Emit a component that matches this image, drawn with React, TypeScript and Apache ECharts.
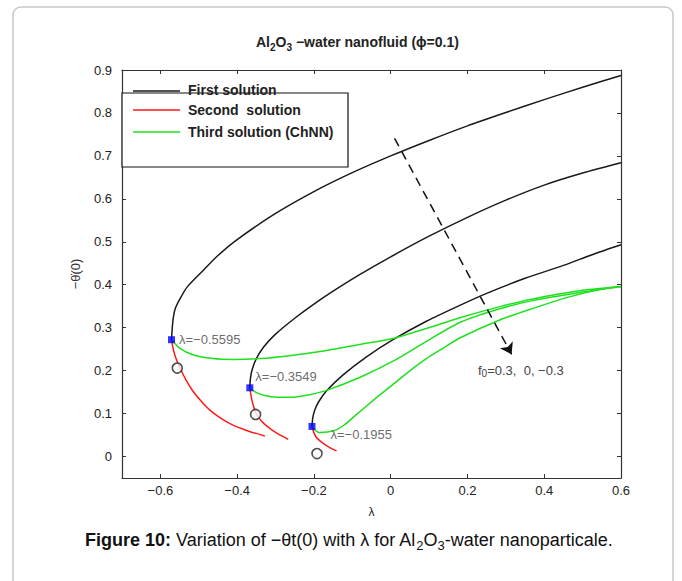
import React, { useEffect, useRef } from 'react';
import * as echarts from 'echarts';

// Axis ticks
const xTicks = [-0.6, -0.4, -0.2, 0, 0.2, 0.4, 0.6];
const yTicks = [0, 0.1, 0.2, 0.3, 0.4, 0.5, 0.6, 0.7, 0.8, 0.9];

// First solution (upper branches), f0 = 0.3, 0, -0.3
const first1 = [[-0.571, 0.272], [-0.569, 0.3], [-0.566, 0.325], [-0.561, 0.345], [-0.549, 0.367], [-0.53, 0.395], [-0.49, 0.432], [-0.45, 0.468], [-0.4, 0.505], [-0.3, 0.566], [-0.2, 0.617], [-0.1, 0.661], [0, 0.7], [0.1, 0.736], [0.2, 0.77], [0.3, 0.801], [0.4, 0.831], [0.5, 0.86], [0.6, 0.887]];
const first2 = [[-0.367, 0.16], [-0.365, 0.185], [-0.36, 0.205], [-0.35, 0.228], [-0.33, 0.256], [-0.3, 0.285], [-0.25, 0.322], [-0.2, 0.355], [-0.15, 0.385], [-0.08, 0.424], [0, 0.465], [0.1, 0.513], [0.2, 0.557], [0.3, 0.597], [0.4, 0.632], [0.5, 0.66], [0.6, 0.684]];
const first3 = [[-0.205, 0.07], [-0.203, 0.09], [-0.198, 0.108], [-0.188, 0.127], [-0.167, 0.153], [-0.124, 0.19], [-0.063, 0.232], [0.006, 0.272], [0.093, 0.315], [0.18, 0.352], [0.25, 0.38], [0.35, 0.415], [0.45, 0.445], [0.525, 0.47], [0.6, 0.493]];

// Second solution (lower branches)
const second1 = [[-0.571, 0.272], [-0.567, 0.252], [-0.56, 0.23], [-0.549, 0.206], [-0.533, 0.178], [-0.515, 0.152], [-0.493, 0.128], [-0.471, 0.108], [-0.441, 0.088], [-0.411, 0.073], [-0.37, 0.059], [-0.328, 0.048]];
const second2 = [[-0.367, 0.16], [-0.365, 0.148], [-0.362, 0.133], [-0.357, 0.116], [-0.35, 0.099], [-0.338, 0.084], [-0.324, 0.072], [-0.3, 0.056], [-0.267, 0.04]];
const second3 = [[-0.205, 0.07], [-0.201, 0.058], [-0.195, 0.046], [-0.185, 0.037], [-0.17, 0.027], [-0.155, 0.019], [-0.141, 0.013]];

// Third solution (ChNN)
const third1 = [[-0.571, 0.272], [-0.549, 0.252], [-0.515, 0.237], [-0.463, 0.228], [-0.411, 0.226], [-0.341, 0.228], [-0.254, 0.236], [-0.167, 0.247], [-0.081, 0.261], [0.006, 0.275], [0.093, 0.298], [0.18, 0.323], [0.284, 0.349], [0.37, 0.367], [0.5, 0.387], [0.6, 0.396]];
const third2 = [[-0.367, 0.16], [-0.352, 0.15], [-0.328, 0.142], [-0.298, 0.138], [-0.254, 0.138], [-0.211, 0.144], [-0.167, 0.154], [-0.081, 0.184], [0.006, 0.222], [0.093, 0.268], [0.18, 0.312], [0.284, 0.344], [0.37, 0.363], [0.5, 0.383], [0.6, 0.396]];
const third3 = [[-0.205, 0.07], [-0.195, 0.06], [-0.186, 0.056], [-0.165, 0.057], [-0.142, 0.062], [-0.12, 0.074], [-0.098, 0.091], [-0.037, 0.137], [0.006, 0.168], [0.049, 0.199], [0.093, 0.228], [0.136, 0.252], [0.18, 0.276], [0.284, 0.318], [0.371, 0.345], [0.458, 0.37], [0.544, 0.389], [0.6, 0.396]];

// Critical points and markers
const criticalPoints = [[-0.571, 0.272], [-0.367, 0.16], [-0.205, 0.07]];
const criticalLabels = ['λ=−0.5595', 'λ=−0.3549', 'λ=−0.1955'];
const openCircles = [[-0.556, 0.206], [-0.352, 0.098], [-0.192, 0.007]];
const arrowStart = [0.01, 0.741];
const arrowEnd = [0.315, 0.238];

const FONT = 'Liberation Sans, Arial, sans-serif';
const BLACK = '#1a1a1a';
const RED = '#ff1a1a';
const GREEN = '#1fe01f';

const fmt = (v: number) => String(v).replace('-', '−');

function lineSeries(name: string, data: number[][], color: string) {
  return {
    name,
    type: 'line',
    data,
    showSymbol: false,
    smooth: 0.25,
    lineStyle: { color, width: 1.5 },
    silent: true,
    z: 3,
  };
}

const labelOffsets = [[0, 0], [-2, -11], [11, 8]];

export default function App() {
  const ref = useRef<HTMLDivElement>(null);
  useEffect(() => {
    const chart = echarts.init(ref.current!, null, { renderer: 'svg' });
    const axisCommon = {
      type: 'value',
      axisLine: { show: true, onZero: false, lineStyle: { color: '#333', width: 1.2 } },
      splitLine: { show: false },
    };
    chart.setOption({
      animation: false,
      backgroundColor: '#fff',
      title: [
        {
          text: '{n|Al}{s|2}{n|O}{s|3}{n| −water nanofluid (ϕ=0.1)}',
          left: 251,
          top: 27,
          textStyle: {
            fontFamily: FONT,
            rich: {
              n: { fontSize: 14, fontWeight: 'bold', color: '#222', lineHeight: 20, fontFamily: FONT },
              s: { fontSize: 10, fontWeight: 'bold', color: '#222', lineHeight: 11, verticalAlign: 'bottom', fontFamily: FONT },
            },
          },
        },
        {
          text: '{b|Figure 10:}{n| Variation of −θt(0) with λ for Al}{s|2}{n|O}{s|3}{n|-water nanoparticale.}',
          left: 80,
          top: 523,
          textStyle: {
            fontFamily: FONT,
            fontWeight: 'normal',
            rich: {
              b: { fontSize: 18, fontWeight: 'bold', color: '#111', lineHeight: 24, fontFamily: FONT },
              n: { fontSize: 18, fontWeight: 'normal', color: '#111', lineHeight: 24, fontFamily: FONT },
              s: { fontSize: 13, fontWeight: 'normal', color: '#111', lineHeight: 13, verticalAlign: 'bottom', fontFamily: FONT },
            },
          },
        },
      ],
      grid: { left: 122, right: 61, top: 70, bottom: 103, containLabel: false },
      xAxis: [
        {
          ...axisCommon,
          position: 'bottom',
          min: -0.7,
          max: 0.6,
          name: 'λ',
          nameLocation: 'middle',
          nameGap: 28,
          nameTextStyle: { fontFamily: FONT, fontSize: 12, color: '#222' },
          axisTick: { show: true, inside: true, length: 4, customValues: xTicks, lineStyle: { color: '#333' } },
          axisLabel: { customValues: xTicks, formatter: fmt, fontFamily: FONT, fontSize: 13, color: '#222', margin: 6 },
        },
        {
          ...axisCommon,
          position: 'top',
          min: -0.7,
          max: 0.6,
          axisTick: { show: true, inside: true, length: 4, customValues: xTicks, lineStyle: { color: '#333' } },
          axisLabel: { show: false },
        },
      ],
      yAxis: [
        {
          ...axisCommon,
          position: 'left',
          min: -0.05,
          max: 0.9,
          name: '−θ̇(0)',
          nameLocation: 'middle',
          nameGap: 40,
          nameRotate: 90,
          nameTextStyle: { fontFamily: FONT, fontSize: 13, color: '#333' },
          axisTick: { show: true, inside: true, length: 4, customValues: yTicks, lineStyle: { color: '#333' } },
          axisLabel: { customValues: yTicks, formatter: fmt, fontFamily: FONT, fontSize: 13, color: '#222', margin: 10 },
        },
        {
          ...axisCommon,
          position: 'right',
          min: -0.05,
          max: 0.9,
          axisTick: { show: true, inside: true, length: 4, customValues: yTicks, lineStyle: { color: '#333' } },
          axisLabel: { show: false },
        },
      ],
      series: [
        lineSeries('First solution', first1, BLACK),
        lineSeries('First solution', first2, BLACK),
        lineSeries('First solution', first3, BLACK),
        lineSeries('Second  solution', second1, RED),
        lineSeries('Second  solution', second2, RED),
        lineSeries('Second  solution', second3, RED),
        lineSeries('Third solution (ChNN)', third1, GREEN),
        lineSeries('Third solution (ChNN)', third2, GREEN),
        lineSeries('Third solution (ChNN)', third3, GREEN),
        {
          type: 'scatter',
          symbol: 'circle',
          symbolSize: 10,
          data: openCircles,
          itemStyle: { color: '#fff', borderColor: '#222', borderWidth: 1.6 },
          silent: true,
          z: 4,
        },
        {
          type: 'scatter',
          symbol: 'rect',
          symbolSize: 7,
          data: criticalPoints.map((p, i) => ({
            value: p,
            label: {
              show: true,
              position: 'right',
              distance: 4,
              offset: labelOffsets[i],
              formatter: criticalLabels[i],
              fontFamily: FONT,
              fontSize: 13,
              color: '#444',
            },
          })),
          itemStyle: { color: '#0000ff' },
          silent: true,
          z: 5,
        },
        {
          type: 'line',
          data: [],
          silent: true,
          markLine: {
            silent: true,
            symbol: ['none', 'arrow'],
            symbolSize: 11,
            label: { show: false },
            lineStyle: { color: '#111', width: 1.5, type: [9, 6] },
            data: [[{ coord: arrowStart }, { coord: arrowEnd }]],
          },
        },
      ],
      graphic: [
        {
          type: 'rect',
          shape: { x: 13, y: 7, width: 660, height: 620, r: 8 },
          style: { fill: 'none', stroke: '#c8c8c8', lineWidth: 1.5 },
          silent: true,
        },
        {
          type: 'rect',
          shape: { x: 122, y: 93, width: 226, height: 74 },
          style: { fill: '#fff', stroke: '#111', lineWidth: 1.2 },
          z: 10,
          silent: true,
        },
        { type: 'line', shape: { x1: 133, y1: 91, x2: 180, y2: 91 }, style: { stroke: BLACK, lineWidth: 1.5 }, z: 11 },
        { type: 'line', shape: { x1: 133, y1: 110, x2: 180, y2: 110 }, style: { stroke: RED, lineWidth: 1.5 }, z: 11 },
        { type: 'line', shape: { x1: 133, y1: 132, x2: 180, y2: 132 }, style: { stroke: GREEN, lineWidth: 1.5 }, z: 11 },
        { type: 'text', x: 188, y: 90, style: { text: 'First solution', fontFamily: FONT, fontSize: 14, fontWeight: 'bold', fill: '#222', verticalAlign: 'middle' }, z: 11 },
        { type: 'text', x: 188, y: 110, style: { text: 'Second  solution', fontFamily: FONT, fontSize: 14, fontWeight: 'bold', fill: '#222', verticalAlign: 'middle' }, z: 11 },
        { type: 'text', x: 188, y: 132, style: { text: 'Third solution (ChNN)', fontFamily: FONT, fontSize: 14, fontWeight: 'bold', fill: '#222', verticalAlign: 'middle' }, z: 11 },
        {
          type: 'text',
          x: 478,
          y: 370,
          style: {
            text: '{n|f}{s|0}{n|=0.3,  0, −0.3}',
            verticalAlign: 'middle',
            rich: {
              n: { fontFamily: FONT, fontSize: 13, fill: '#444', lineHeight: 16 },
              s: { fontFamily: FONT, fontSize: 10, fill: '#444', lineHeight: 10, verticalAlign: 'bottom' },
            },
          },
          z: 11,
        },
      ],
    });
    return () => chart.dispose();
  }, []);
  return (
    <div
      ref={ref}
      style={{ position: 'fixed', left: 0, top: 0, width: 682, height: 581, background: '#fff' }}
    />
  );
}
